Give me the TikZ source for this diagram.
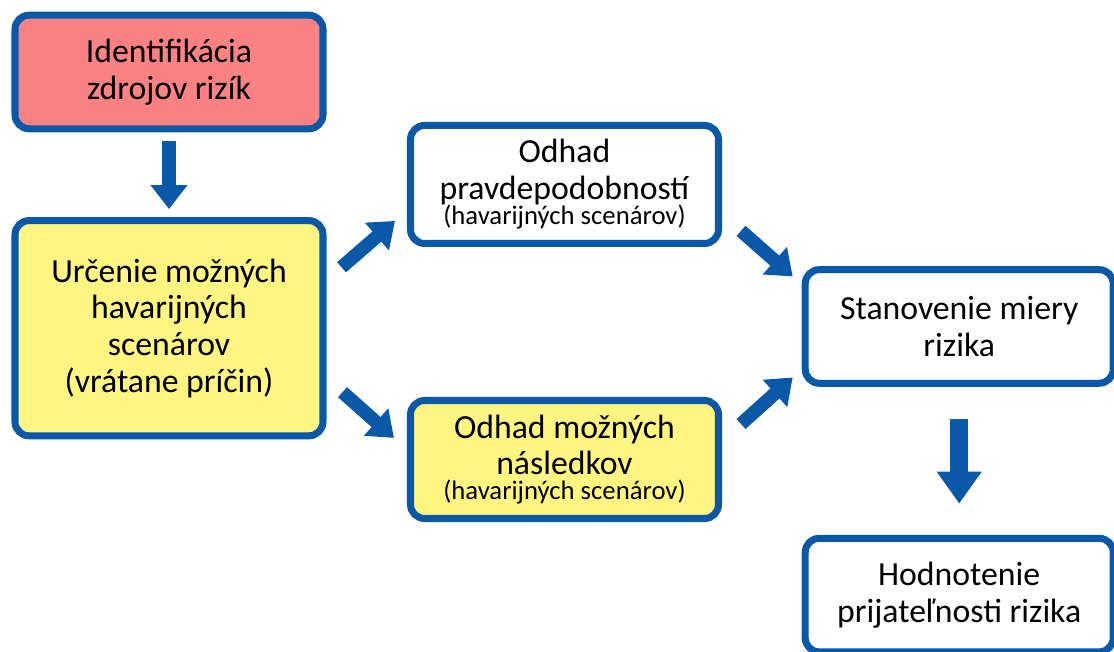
\documentclass[tikz,border=0pt]{standalone}
\usepackage{fontspec}
\setmainfont{Carlito}
\usetikzlibrary{
    arrows.meta,
    positioning,
    calc
}
\definecolor{frameblue}{RGB}{10,88,168}
\definecolor{srcred}{RGB}{250,130,130}
\definecolor{hlyellow}{RGB}{255,246,130}
\newcommand{\smalltxt}[1]{{\fontsize{9.5}{11}\selectfont #1}}

\begin{document}
\begin{tikzpicture}[
    every node/.style={font=\fontsize{12}{13}\selectfont},
    box/.style={
        draw=frameblue,
        rounded corners=5pt,
        line width=2.5pt,
        align=center,
        minimum width=3.85cm,
        minimum height=1.42cm,
        fill=white
    },
    boxsrc/.style={
        box,
        fill=srcred
    },
    boxhl/.style={
        box,
        fill=hlyellow
    },
    arrow/.style={
        -{Triangle[length=8.5pt,width=12.5pt]},
        line width=4.8pt,
        draw=frameblue
    },
    arrowbig/.style={
        -{Triangle[length=11.4pt,width=15.3pt]},
        line width=6.4pt,
        draw=frameblue
    }
]
\useasboundingbox (0,0) rectangle (13.925,8.15);

\node[boxsrc] (ident) at (2.1125,7.25) {Identifikácia\\zdrojov rizík};
\node[boxhl, minimum height=2.69cm, below=1.06cm of ident] (scen) {Určenie možných\\havarijných\\scenárov\\(vrátane príčin)};
\node[box, minimum height=1.475cm] (prob) at (7.056,5.844) {Odhad\\pravdepodobností\\[-4pt]\smalltxt{(havarijných scenárov)}};
\node[boxhl, minimum height=1.475cm] (cons) at (7.056,2.406) {Odhad možných\\následkov\\[-4pt]\smalltxt{(havarijných scenárov)}};
\node[box] (level) at (11.99,4.069) {Stanovenie miery\\rizika};
\node[box, below=1.85cm of level] (accept) {Hodnotenie\\prijateľnosti rizika};

\draw[arrow] ([yshift=-0.1125cm]ident.south) -- ([yshift=0.1cm]scen.north);
\draw[arrow] ($(scen.east)+(0.1875,0.7625)$) -- ($(prob.west)+(-0.15,-0.456)$);
\draw[arrow] ($(scen.east)+(0.2,-0.8)$) -- ($(cons.west)+(-0.1625,0.27)$);
\draw[arrow] ($(prob.east)+(0.2375,-0.58)$) -- ($(level.west)+(-0.1125,0.625)$);
\draw[arrow] ($(cons.east)+(0.2375,0.444)$) -- ($(level.west)+(-0.1125,-0.6375)$);
\draw[arrowbig] ([yshift=-0.4cm]level.south) -- ([yshift=0.39cm]accept.north);

\end{tikzpicture}
\end{document}
